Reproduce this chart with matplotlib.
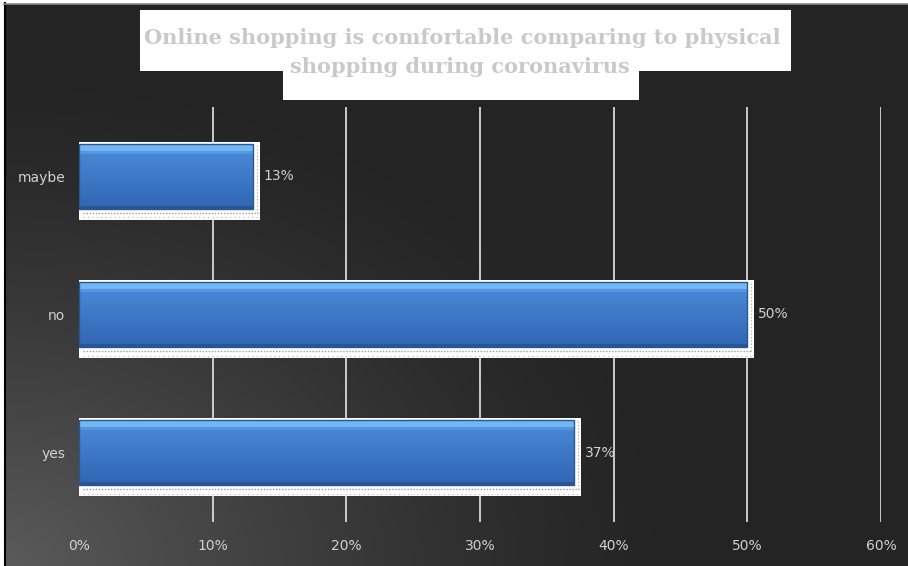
import numpy as np
import matplotlib
matplotlib.use("Agg")
import matplotlib.pyplot as plt
from matplotlib.patches import Rectangle
from matplotlib.ticker import FuncFormatter

# Survey answers and their share of respondents (%)
categories = ["yes", "no", "maybe"]
shares = [37, 50, 13]
x_ticks = [0, 10, 20, 30, 40, 50, 60]
title_lines = ["Online shopping is comfortable comparing to physical",
               "shopping during coronavirus"]

W, H = 908, 566
fig = plt.figure(figsize=(W / 100, H / 100), dpi=100, facecolor="white")

# ---- dark backdrop with a soft light glow in the lower-left corner ----
bg = fig.add_axes([5 / W, 0, (W - 5) / W, (H - 4) / H])
bg.set_axis_off()
nx, ny = 400, 250
xx, yy = np.meshgrid(np.linspace(0, 1, nx), np.linspace(0, 1, ny))
d = np.sqrt((xx / 0.72) ** 2 + ((1 - yy) / 0.85) ** 2)
glow = np.clip(1 - d, 0, 1) ** 1.3
val = 0.145 + 0.21 * glow
img = np.dstack([val, val, val])
bg.imshow(img, aspect="auto", extent=[0, 1, 0, 1], origin="upper")
bg.set_xlim(0, 1)
bg.set_ylim(0, 1)
# thin frame lines on left and top
fig.add_artist(plt.Line2D([4.5 / W, 4.5 / W], [0, (H - 3) / H], color="black", lw=1.5))
fig.add_artist(plt.Line2D([4 / W, 1], [(H - 3.5) / H, (H - 3.5) / H], color="#8a8a8a", lw=1.2))

# ---- main plot area ----
left, right = 79 / W, 881 / W
top, bottom = 107 / H, 522 / H
ax = fig.add_axes([left, 1 - bottom, right - left, bottom - top])
ax.set_facecolor("none")
ax.set_xlim(0, 60)
ax.set_ylim(-0.5, len(categories) - 0.5)
for s in ax.spines.values():
    s.set_visible(False)
ax.set_xticks(x_ticks)
ax.xaxis.set_major_formatter(FuncFormatter(lambda v, p: f"{int(v)}%"))
ax.set_yticks(range(len(categories)))
ax.set_yticklabels(categories)
ax.tick_params(axis="both", length=0, colors="#d0d0d0", labelsize=10)
ax.tick_params(axis="x", pad=12)
ax.tick_params(axis="y", pad=10)
# vertical gridlines (none at the zero line)
for t in x_ticks[1:]:
    ax.axvline(t, color="#e6e6e6", lw=1.2, zorder=1)

bar_h = 0.47
px_x = 60 / 802.0      # data units per pixel, x
px_y = 3 / 415.0       # data units per pixel, y

for i, v in enumerate(shares):
    y0 = i - bar_h / 2
    # white backing card with a dotted lower edge
    card = Rectangle((0, y0 - 11 * px_y), v + 7 * px_x, bar_h + 13 * px_y,
                     facecolor="white", edgecolor="none", zorder=3)
    ax.add_patch(card)
    ax.plot([0.3, v + 5 * px_x], [y0 - 4 * px_y] * 2, color="#9a9a9a", lw=1.0,
            ls=(0, (1, 1.2)), zorder=3.5)
    ax.plot([0.3, v + 5 * px_x], [y0 - 8.5 * px_y] * 2, color="#b5b5b5", lw=0.8,
            ls=(0, (1, 3)), zorder=3.5)
    ax.plot([v + 4 * px_x] * 2, [y0 - 4 * px_y, y0 + bar_h], color="#a0a0a0", lw=0.8,
            ls=(0, (1, 2)), zorder=3.5)
    # blue bar with vertical shading (lighter on top)
    bar = ax.barh(i, v, height=bar_h, color="#3f7fcf", edgecolor="none",
                  lw=0, zorder=4)[0]
    grad = np.linspace(0, 1, 64)
    cols = np.zeros((64, 1, 3))
    top_c = np.array([0.30, 0.55, 0.86])
    bot_c = np.array([0.19, 0.40, 0.70])
    for k in range(3):
        cols[:, 0, k] = top_c[k] * (1 - grad) + bot_c[k] * grad
    im = ax.imshow(cols, aspect="auto", extent=[0, v, y0, y0 + bar_h],
                   origin="upper", zorder=4.2, interpolation="bilinear")
    im.set_clip_path(bar)
    # bright bevel along the top edge
    ax.add_patch(Rectangle((0, y0 + bar_h - 7 * px_y), v, 7 * px_y,
                           facecolor="#72b6f2", edgecolor="none", zorder=4.4))
    ax.add_patch(Rectangle((0, y0 + bar_h - 10 * px_y), v, 3 * px_y,
                           facecolor="#5596e0", edgecolor="none", zorder=4.4))
    # darker lower rim
    ax.add_patch(Rectangle((0, y0), v, 3 * px_y,
                           facecolor="#2a5592", edgecolor="none", zorder=4.4))
    ax.add_patch(Rectangle((0, y0), v, bar_h, facecolor="none",
                           edgecolor="#2a5694", lw=1.0, zorder=4.6))
    ax.text(v + 11 * px_x, i, f"{v}%", va="center", ha="left",
            color="#d0d0d0", fontsize=10, zorder=5)

# ---- title on white cards ----
fig.add_artist(Rectangle((140 / W, 1 - 71 / H), (791 - 140) / W, 61 / H,
                         transform=fig.transFigure, facecolor="white",
                         edgecolor="none", zorder=5))
fig.add_artist(Rectangle((283 / W, 1 - 100 / H), (639 - 283) / W, 30 / H,
                         transform=fig.transFigure, facecolor="white",
                         edgecolor="none", zorder=5))
fig.text(462 / W, 1 - 38 / H, title_lines[0], ha="center", va="center",
         fontsize=15, family="DejaVu Serif", fontweight="bold",
         color="#c9c9c9", zorder=6)
fig.text(460 / W, 1 - 67 / H, title_lines[1], ha="center", va="center",
         fontsize=15, family="DejaVu Serif", fontweight="bold",
         color="#c9c9c9", zorder=6)

fig.savefig("out.png", dpi=100, facecolor="white")
